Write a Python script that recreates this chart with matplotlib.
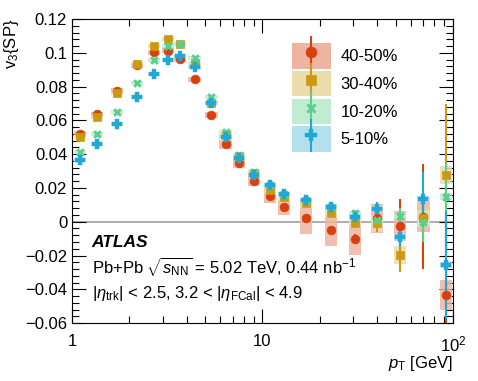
import numpy as np
import matplotlib
matplotlib.use("Agg")
import matplotlib.pyplot as plt
from matplotlib.patches import Rectangle, Patch
from matplotlib.collections import LineCollection
from matplotlib.container import ErrorbarContainer
from matplotlib.legend_handler import HandlerErrorbar, HandlerTuple
from matplotlib import ticker

plt.rcParams["font.family"] = ["Liberation Sans", "DejaVu Sans"]
plt.rcParams["mathtext.fontset"] = "custom"
plt.rcParams["mathtext.rm"] = "Liberation Sans"
plt.rcParams["mathtext.it"] = "Liberation Sans:italic"
plt.rcParams["mathtext.bf"] = "Liberation Sans:bold"

# pT bin centres [GeV]
pt = [1.1, 1.35, 1.72, 2.2, 2.7, 3.2, 3.7, 4.4, 5.4, 6.4, 7.5, 9.0,
      10.9, 12.95, 16.9, 23.0, 30.6, 40.0, 52.7, 70.0, 92.0]

labels = ["40-50%", "30-40%", "10-20%", "5-10%"]

v3_4050 = [0.052, 0.0636, 0.0776, 0.0928, 0.1003, 0.1013, 0.0963, 0.0843, 0.0632, 0.0458, 0.0346, 0.0241,
           0.0154, 0.0085, 0.0024, -0.0051, -0.0104, 0.002, -0.0025, 0.003, -0.0434]
v3_3040 = [0.0503, 0.0618, 0.0764, 0.0932, 0.1042, 0.108, 0.105, 0.0938, 0.0705, 0.0513, 0.0389, 0.0287,
           0.0188, 0.0144, 0.0113, 0.005, -0.001, -0.001, -0.0197, 0.002, 0.0277]
v3_1020 = [0.0414, 0.0517, 0.0651, 0.0823, 0.0957, 0.104, 0.105, 0.0967, 0.074, 0.0533, 0.0395, 0.0296,
           0.0217, 0.0164, 0.0128, 0.0089, 0.005, 0.001, 0.0034, 0.0, 0.0148]
v3_0510 = [0.0365, 0.0458, 0.0577, 0.074, 0.0874, 0.0957, 0.0983, 0.0918, 0.0705, 0.0503, 0.0375, 0.0276,
           0.0217, 0.0164, 0.0128, 0.0089, 0.003, 0.0075, -0.0093, 0.0134, -0.0256]

# statistical errors
stat_4050 = [0.0005] * 12 + [0.001, 0.001, 0.0015, 0.002, 0.003, 0.004, 0.016, 0.031, 0.042]
stat_3040 = [0.0005] * 12 + [0.001, 0.001, 0.0015, 0.002, 0.002, 0.005, 0.010, 0.012, 0.042]
stat_1020 = [0.0004] * 12 + [0.0008, 0.001, 0.001, 0.0015, 0.002, 0.003, 0.005, 0.012, 0.02]
stat_0510 = [0.0004] * 12 + [0.0008, 0.001, 0.001, 0.0015, 0.002, 0.004, 0.005, 0.016, 0.032]

# systematic uncertainties (boxes)
sys_4050 = [0.0015] * 8 + [0.002, 0.0025, 0.003, 0.003, 0.0045, 0.0045, 0.0097, 0.009, 0.009,
                           0.0085, 0.009, 0.009, 0.009]
sys_3040 = [0.0012] * 8 + [0.0015, 0.0015, 0.002, 0.002, 0.002, 0.002, 0.003, 0.003, 0.003,
                           0.005, 0.0055, 0.005, 0.0055]
sys_1020 = [0.0012] * 12 + [0.0015] * 5 + [0.002, 0.002, 0.002, 0.002]
sys_0510 = [0.0012] * 12 + [0.0015] * 5 + [0.002, 0.002, 0.002, 0.002]

series = [
    (v3_4050, stat_4050, sys_4050, "#d5420f", "#efb4a0", "o", 6.3, 0.5),
    (v3_3040, stat_3040, sys_3040, "#cc9a12", "#ecdcac", "s", 6.0, 0.5),
    (v3_1020, stat_1020, sys_1020, "#5bd08c", "#c2ecd2", (4, 2, 45), 6.5, 1.8),
    (v3_0510, stat_0510, sys_0510, "#22a8d4", "#b4e0ee", "P", 6.8, 0.3),
]

fig = plt.figure(figsize=(4.78, 3.81), dpi=100)
ax = fig.add_axes([0.1506, 0.152, 0.797, 0.798])

ax.axhline(0, color="#a0a0a0", lw=1.2, zorder=1)

hw = 0.032  # half box width in decades
handles = []
for vals, stat, sys, col, light, mk, ms, mew in series:
    for x, y, s in zip(pt, vals, sys):
        ax.add_patch(Rectangle((x * 10 ** -hw, y - s), x * (10 ** hw - 10 ** -hw), 2 * s,
                               facecolor=light, edgecolor="none", alpha=0.85, zorder=2))
for vals, stat, sys, col, light, mk, ms, mew in series:
    ax.errorbar(pt, vals, yerr=stat, fmt="none", ecolor=col, elinewidth=1.5, capsize=0, zorder=3)
    ax.plot(pt, vals, linestyle="none", marker=mk, ms=ms, color=col, mec=col, mew=mew, zorder=4)
    line = plt.Line2D([], [], linestyle="none", marker=mk, ms=ms + 1.5, color=col, mec=col, mew=mew)
    bar = ErrorbarContainer((line, (), (LineCollection([], colors=col, linewidths=1.5),)),
                            has_xerr=False, has_yerr=True)
    handles.append((Patch(facecolor=light, edgecolor="none"), bar))

ax.set_xscale("log")
ax.set_xlim(1, 100)
ax.set_ylim(-0.06, 0.12)
ax.yaxis.set_major_locator(ticker.MultipleLocator(0.02))
ax.yaxis.set_minor_locator(ticker.MultipleLocator(0.004))
ax.yaxis.set_major_formatter(ticker.FuncFormatter(lambda v, p: "0" if abs(v) < 1e-9 else f"{v:g}".replace("-", "\u2212")))
ax.xaxis.set_major_formatter(ticker.FuncFormatter(
    lambda v, p: {1: "1", 10: "10", 100: "$10^{2}$"}.get(int(round(v)), "")))
ax.tick_params(which="both", direction="in", top=True, right=True, labelsize=12)
ax.tick_params(which="major", length=10, width=0.8)
ax.tick_params(which="minor", length=5, width=0.8)
ax.tick_params(axis="x", pad=8)

ax.set_ylabel("v$_3${SP}", fontsize=12, loc="top")
ax.yaxis.set_label_coords(-0.135, 1.0)
ax.set_xlabel("$p_{\\mathrm{T}}$ [GeV]", fontsize=12, loc="right", labelpad=0)

ax.text(0.052, 0.25, "ATLAS", transform=ax.transAxes, fontsize=12.5, fontweight="bold",
        fontstyle="italic", va="baseline")
ax.text(0.052, 0.164, "Pb+Pb $\\sqrt{s_{\\mathrm{NN}}}$ = 5.02 TeV, 0.44 nb$^{-1}$",
        transform=ax.transAxes, fontsize=12, va="baseline")
ax.text(0.052, 0.082, "|$\\eta_{\\mathrm{trk}}$| < 2.5, 3.2 < |$\\eta_{\\mathrm{FCal}}$| < 4.9",
        transform=ax.transAxes, fontsize=12, va="baseline")

ax.legend(handles, labels, loc="upper left", bbox_to_anchor=(0.578, 0.92), frameon=False,
          fontsize=12, handlelength=2.3, handleheight=1.95, labelspacing=0.15,
          handletextpad=0.6, borderpad=0, borderaxespad=0, numpoints=1,
          handler_map={ErrorbarContainer: HandlerErrorbar(yerr_size=1.0),
                       tuple: HandlerTuple(ndivide=1, pad=0)})

fig.savefig("out.png", dpi=100)
